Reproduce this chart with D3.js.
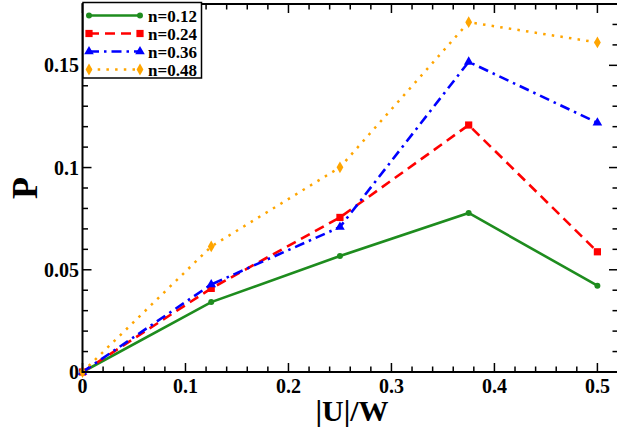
<!DOCTYPE html>
<html><head><meta charset="utf-8">
<script src="https://cdn.jsdelivr.net/npm/d3@7"></script>
<style>body{margin:0;background:#fff}svg{display:block}text{font-family:"Liberation Serif","Times New Roman",serif;font-weight:bold}</style>
</head><body><svg id="c" width="617" height="427"></svg>
<script>
const xValues = [0, 0.125, 0.25, 0.375, 0.5];
const seriesNames = ["n=0.12", "n=0.24", "n=0.36", "n=0.48"];
const p012 = [0, 0.0342, 0.0567, 0.0778, 0.0422];
const p024 = [0, 0.0409, 0.0756, 0.1208, 0.0588];
const p036 = [0, 0.0428, 0.0709, 0.1517, 0.1219];
const p048 = [0, 0.0614, 0.1001, 0.1711, 0.1612];
const xTicks = [0, 0.1, 0.2, 0.3, 0.4, 0.5];
const xTickLabels = ["0", "0.1", "0.2", "0.3", "0.4", "0.5"];
const yTicks = [0, 0.05, 0.1, 0.15];
const yTickLabels = ["0", "0.05", "0.1", "0.15"];

const series = [
  {name: seriesNames[0], vals: p012, color: "#1e8c1e", dash: null, sym: d3.symbolCircle, size: 28},
  {name: seriesNames[1], vals: p024, color: "#ff0000", dash: "10,6", sym: d3.symbolSquare, size: 52},
  {name: seriesNames[2], vals: p036, color: "#0000ff", dash: "10,5,2.5,5", sym: d3.symbolTriangle, size: 40},
  {name: seriesNames[3], vals: p048, color: "#ffa500", dash: "2.5,6.2", sym: d3.symbolDiamond, size: 40}
];

const svg = d3.select("#c");
const L = 82.5, R = 618, T = 4, B = 372;
const x = d3.scaleLinear().domain([0, 0.52]).range([L, R]);
const y = d3.scaleLinear().domain([0, 0.18]).range([B, T]);

// minor & major ticks, inward, mirrored
const g = svg.append("g");
const xMinor = d3.range(0, 0.5201, 0.02);
const yMinor = d3.range(0, 0.1801, 0.01);
xMinor.forEach(v => {
  const major = xTicks.some(t => Math.abs(t - v) < 1e-9);
  const len = major ? 9 : 5.5;
  g.append("line").attr("x1", x(v)).attr("x2", x(v)).attr("y1", B).attr("y2", B - len).attr("stroke", "#000").attr("stroke-width", 1.5);
  g.append("line").attr("x1", x(v)).attr("x2", x(v)).attr("y1", T).attr("y2", T + len).attr("stroke", "#000").attr("stroke-width", 1.5);
});
yMinor.forEach(v => {
  const major = yTicks.some(t => Math.abs(t - v) < 1e-9);
  const len = major ? 9 : 5.5;
  g.append("line").attr("y1", y(v)).attr("y2", y(v)).attr("x1", L).attr("x2", L + len).attr("stroke", "#000").attr("stroke-width", 1.5);
  g.append("line").attr("y1", y(v)).attr("y2", y(v)).attr("x1", R).attr("x2", R - len).attr("stroke", "#000").attr("stroke-width", 1.5);
});

// series
const line = d3.line().x((d, i) => x(xValues[i])).y(d => y(d));
series.forEach(s => {
  svg.append("path").attr("d", line(s.vals)).attr("fill", "none").attr("stroke", s.color)
    .attr("stroke-width", s.dash === "2.5,6.2" ? 2.5 : 2.6).attr("stroke-dasharray", s.dash);
  s.vals.forEach((v, i) => {
    svg.append("path").attr("d", d3.symbol().type(s.sym).size(s.size)())
      .attr("transform", `translate(${x(xValues[i])},${y(v)})`).attr("fill", s.color);
  });
});

// frame
svg.append("rect").attr("x", L).attr("y", T).attr("width", R - L).attr("height", B - T)
  .attr("fill", "none").attr("stroke", "#000").attr("stroke-width", 2);

// tick labels
xTicks.forEach((v, i) => {
  svg.append("text").attr("x", x(v)).attr("y", 393).attr("text-anchor", "middle")
    .attr("font-size", 20).text(xTickLabels[i]);
});
yTicks.forEach((v, i) => {
  svg.append("text").attr("x", 79).attr("y", y(v) + 7).attr("text-anchor", "end")
    .attr("font-size", 20).text(yTickLabels[i]);
});

// axis titles
svg.append("text").attr("x", 352).attr("y", 421).attr("text-anchor", "middle").attr("font-size", 30).text("|U|/W");
svg.append("text").attr("transform", "translate(37,188) rotate(-90)").attr("text-anchor", "middle").attr("font-size", 36).text("P");

// legend
const lg = svg.append("g");
lg.append("rect").attr("x", 83).attr("y", 2.5).attr("width", 118.5).attr("height", 75.5)
  .attr("fill", "#fff").attr("stroke", "#000").attr("stroke-width", 1.5);
series.forEach((s, i) => {
  const yy = 15.5 + i * 18;
  lg.append("line").attr("x1", 89).attr("x2", 140).attr("y1", yy).attr("y2", yy)
    .attr("stroke", s.color).attr("stroke-width", 2.5).attr("stroke-dasharray", s.dash);
  [89, 140].forEach(xx => lg.append("path").attr("d", d3.symbol().type(s.sym).size(s.size)())
    .attr("transform", `translate(${xx},${yy})`).attr("fill", s.color));
  lg.append("text").attr("x", 148).attr("y", yy + 6).attr("font-size", 17).text(s.name);
});
</script></body></html>
